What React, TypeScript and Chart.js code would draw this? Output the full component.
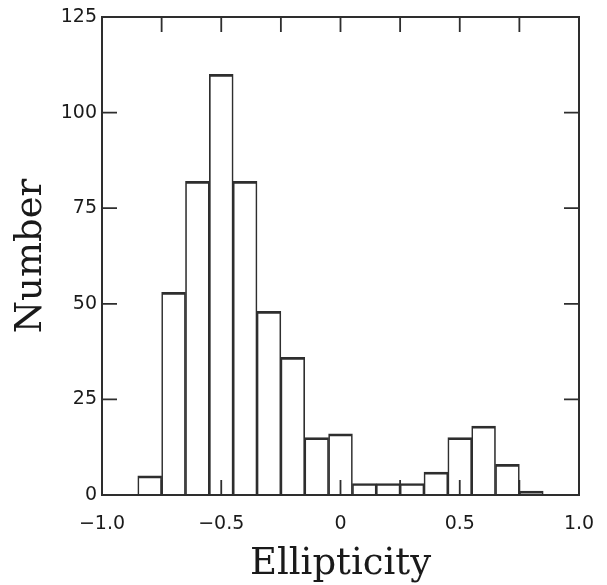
import React, { useEffect, useRef } from "react";
import { Chart, registerables } from "chart.js";

Chart.register(...registerables);

// ---- data ----
const binCenters = [-0.8, -0.7, -0.6, -0.5, -0.4, -0.3, -0.2, -0.1, 0.0, 0.1, 0.2, 0.3, 0.4, 0.5, 0.6, 0.7, 0.8];
const counts = [5, 53, 82, 110, 82, 48, 36, 15, 16, 3, 3, 3, 6, 15, 18, 8, 1];
const xLabelValues = [-1, -0.5, 0, 0.5, 1];
const xLabelTexts = ["\u22121.0", "\u22120.5", "0", "0.5", "1.0"];
const xTitle = "Ellipticity";
const yTitle = "Number";

const LINE = "#2e2e2e";
const TEXT = "#1a1a1a";
const TICK_LEN = 15;

const inwardTicks = {
  id: "inwardTicks",
  afterDatasetsDraw(chart: any) {
    const { ctx, chartArea: a } = chart;
    const xs = chart.scales.x;
    const ys = chart.scales.y;
    ctx.save();
    ctx.strokeStyle = LINE;
    ctx.lineWidth = 1.8;
    ctx.beginPath();
    xs.ticks.forEach((t: any) => {
      const p = xs.getPixelForValue(t.value);
      ctx.moveTo(p, a.bottom);
      ctx.lineTo(p, a.bottom - TICK_LEN);
      ctx.moveTo(p, a.top);
      ctx.lineTo(p, a.top + TICK_LEN);
    });
    ys.ticks.forEach((t: any) => {
      const p = ys.getPixelForValue(t.value);
      ctx.moveTo(a.left, p);
      ctx.lineTo(a.left + TICK_LEN, p);
      ctx.moveTo(a.right, p);
      ctx.lineTo(a.right - TICK_LEN, p);
    });
    ctx.stroke();
    ctx.restore();
  },
};

export default function App() {
  const ref = useRef<HTMLCanvasElement | null>(null);

  useEffect(() => {
    if (!ref.current) return;
    const tickFont = { family: "'DejaVu Sans', sans-serif", size: 19 };
    const titleFont = { family: "'DejaVu Serif', serif", size: 37, lineHeight: 1.0 };
    const border = { display: true, color: LINE, width: 2 };
    const chart = new Chart(ref.current, {
      type: "bar",
      data: {
        datasets: [
          {
            data: binCenters.map((x, i) => ({ x, y: counts[i] })),
            backgroundColor: "rgba(0,0,0,0)",
            borderColor: LINE,
            borderWidth: { top: 2, left: 1, right: 1, bottom: 0 },
            borderSkipped: "start",
            barPercentage: 1,
            categoryPercentage: 1,
          },
        ],
      },
      options: {
        animation: false,
        responsive: false,
        layout: { padding: 0 },
        plugins: { legend: { display: false }, tooltip: { enabled: false } },
        scales: {
          x: {
            type: "linear",
            position: "bottom",
            min: -1,
            max: 1,
            offset: false,
            grid: { display: false, drawTicks: false, offset: false },
            border,
            ticks: {
              stepSize: 0.25,
              autoSkip: false,
              maxRotation: 0,
              padding: 18,
              color: TEXT,
              font: tickFont,
              callback: (v: any) => {
                const idx = xLabelValues.findIndex((lv) => Math.abs(lv - Number(v)) < 1e-9);
                return idx >= 0 ? xLabelTexts[idx] : "";
              },
            },
            title: { display: true, text: xTitle, color: TEXT, font: titleFont, padding: { top: 0, bottom: 2 } },
            afterFit: (s: any) => {
              s.height = 90;
              s.paddingLeft = 0;
              s.paddingRight = 0;
            },
          },
          x2: {
            type: "linear",
            position: "top",
            min: -1,
            max: 1,
            grid: { display: false, drawTicks: false },
            border,
            ticks: { display: false },
            afterFit: (s: any) => {
              s.height = 17;
              s.paddingLeft = 0;
              s.paddingRight = 0;
            },
          },
          y: {
            type: "linear",
            position: "left",
            min: 0,
            max: 125,
            grid: { display: false, drawTicks: false },
            border,
            ticks: { stepSize: 25, padding: 5, color: TEXT, font: tickFont },
            title: { display: true, text: yTitle, color: TEXT, font: titleFont, padding: { top: 13, bottom: 0 } },
            afterFit: (s: any) => {
              s.width = 102;
            },
          },
          y2: {
            type: "linear",
            position: "right",
            min: 0,
            max: 125,
            grid: { display: false, drawTicks: false },
            border,
            ticks: { display: false },
            afterFit: (s: any) => {
              s.width = 28;
            },
          },
        },
      } as any,
      plugins: [inwardTicks],
    });
    return () => chart.destroy();
  }, []);

  return (
    <div style={{ position: "fixed", left: 0, top: 0, width: 607, height: 585, background: "#fff" }}>
      <canvas ref={ref} width={607} height={585} />
    </div>
  );
}
